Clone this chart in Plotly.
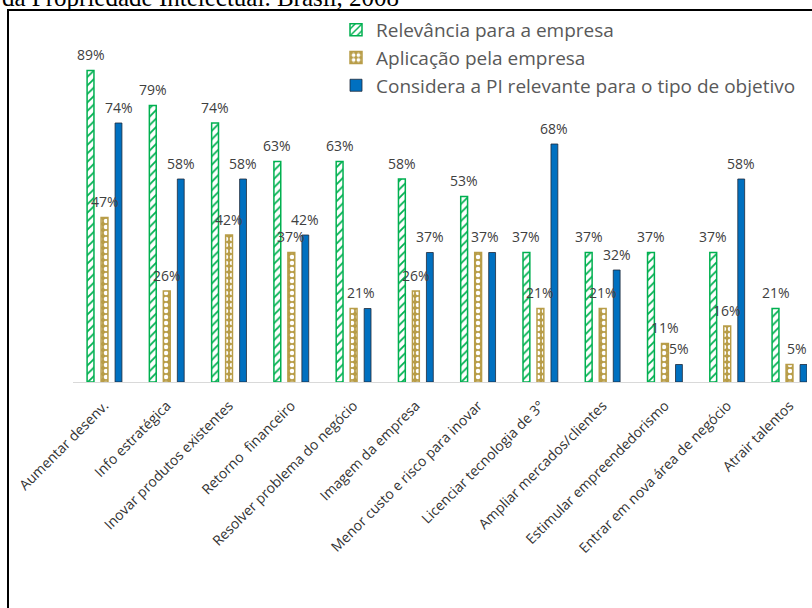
import plotly.graph_objects as go

# Objectives of companies and the role of intellectual property (%)
categories = [
    "Aumentar desenv.", "Info estratégica", "Inovar produtos existentes",
    "Retorno  financeiro", "Resolver problema do negócio", "Imagem da empresa",
    "Menor custo e risco para inovar", "Licenciar tecnologia de 3°",
    "Ampliar mercados/clientes", "Estimular empreendedorismo",
    "Entrar em nova área de negócio", "Atrair talentos",
]
relevancia = [89, 79, 74, 63, 63, 58, 53, 37, 37, 37, 37, 21]
aplicacao = [47, 26, 42, 37, 21, 26, 37, 21, 21, 11, 16, 5]
considera_pi = [74, 58, 58, 42, 21, 37, 37, 68, 32, 5, 58, 5]

series_names = [
    "Relevância para a empresa",
    "Aplicação pela empresa",
    "Considera a PI relevante para o tipo de objetivo",
]

W, H = 812, 608
L, R, T, B = 73, 807, 32, 382
BARGAP = 0.326
SLOT = (1 - BARGAP) / 3

GREEN = "#00B050"
GOLD = "#B89D48"
BLUE = "#0070C0"
TXT = "#404040"
FONT = "Open Sans"


def px_x(p):
    return (p - L) / (R - L)


def px_y(p):
    return (B - p) / (B - T)


x_idx = list(range(len(categories)))

fig = go.Figure()
fig.add_trace(go.Bar(
    x=x_idx, y=[v / 100 for v in relevancia], name=series_names[0],
    marker=dict(
        color="white",
        line=dict(color=GREEN, width=1.5),
        pattern=dict(shape="/", fgcolor=GREEN, bgcolor="white",
                     size=6, solidity=0.3, fillmode="replace"),
    ),
))
fig.add_trace(go.Bar(
    x=x_idx, y=[v / 100 for v in aplicacao], name=series_names[1],
    marker=dict(
        color=GOLD,
        line=dict(color=GOLD, width=1.5),
        pattern=dict(shape=".", fgcolor="white", bgcolor=GOLD,
                     size=6, solidity=0.45, fillmode="replace"),
    ),
))
fig.add_trace(go.Bar(
    x=x_idx, y=[v / 100 for v in considera_pi], name=series_names[2],
    marker=dict(color=BLUE, line=dict(color="#1F2A3A", width=0.8)),
))


def value_label(x, v):
    return dict(
        x=x, y=v / 100, xref="x", yref="y",
        text=f"{v}%", showarrow=False, yanchor="middle", yshift=16,
        font=dict(family=FONT, size=14, color=TXT),
    )


annotations = []
for i in x_idx:
    annotations.append(value_label(i - SLOT, relevancia[i]))
    if aplicacao[i] == considera_pi[i]:
        # equal neighbours share a single label between the two bars
        annotations.append(value_label(i + SLOT / 2, aplicacao[i]))
    else:
        annotations.append(value_label(i, aplicacao[i]))
        annotations.append(value_label(i + SLOT, considera_pi[i]))

# cut-off caption line above the chart frame
annotations.append(dict(
    x=px_x(0), y=px_y(12.5), xref="paper", yref="paper",
    xanchor="left", yanchor="bottom", showarrow=False,
    text="da Propriedade Intelectual. Brasil, 2008",
    font=dict(family="Liberation Serif", size=25, color="black"),
))

fig.update_layout(
    width=W, height=H,
    margin=dict(l=L, r=W - R, t=T, b=H - B, autoexpand=False),
    paper_bgcolor="white", plot_bgcolor="white",
    barmode="group", bargap=BARGAP, bargroupgap=0.51,
    showlegend=True,
    legend=dict(
        x=px_x(336), y=px_y(11), xanchor="left", yanchor="top",
        font=dict(family=FONT, size=19, color="#595959"),
        bgcolor="rgba(0,0,0,0)", traceorder="normal",
    ),
    annotations=annotations,
    shapes=[dict(
        type="rect", xref="paper", yref="paper",
        x0=px_x(8), x1=px_x(900), y0=px_y(700), y1=px_y(10),
        line=dict(color="black", width=2), fillcolor="rgba(0,0,0,0)",
    )],
)
fig.update_xaxes(
    range=[-0.506, 11.281], tickmode="array", tickvals=x_idx,
    ticktext=categories, tickangle=-45, showline=True,
    linecolor="#D9D9D9", linewidth=1, showgrid=False, ticks="",
    tickfont=dict(family=FONT, size=14, color="#333333"), ticklabelstandoff=9,
    zeroline=False,
)
fig.update_yaxes(range=[0, 1], visible=False, showgrid=False)

fig.write_html("out.html")
